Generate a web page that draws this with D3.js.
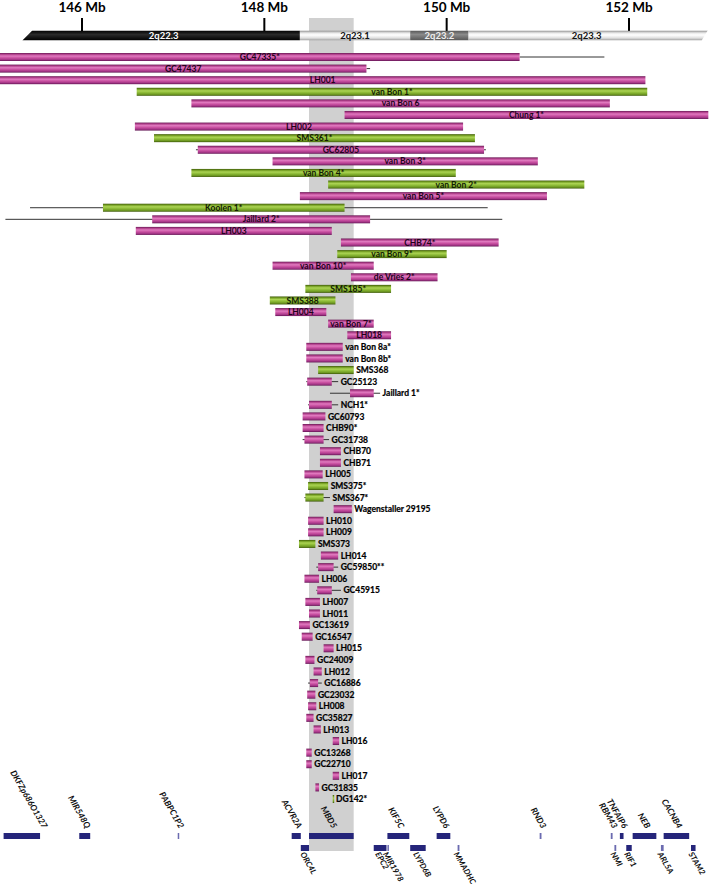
<!DOCTYPE html>
<html>
<head>
<meta charset="utf-8">
<script src="https://cdn.jsdelivr.net/npm/d3@7"></script>
<style>
  html, body { margin: 0; padding: 0; background: #fff; }
  svg { display: block; font-family: Lato, "Open Sans", sans-serif; }
</style>
</head>
<body>
<svg id="chart" width="713" height="887"></svg>
<script>
// Positions in Mb (chromosome 2)
var tickValues = [146, 148, 150, 152];

// ideogram bands
var bandNames = ["2q22.3", "2q23.1", "2q23.2", "2q23.3"];
var bandStart = [145.40, 148.39, 149.60, 150.24];
var bandEnd   = [148.39, 149.60, 150.24, 152.83];
var bandStain = ["gpos100", "gneg", "gpos50", "gneg"];

// shared minimal region (grey)
var smroStart = 148.49, smroEnd = 148.98;

// deletions / duplications, one row each
var rowNames = ["GC47335*","GC47437","LH001","van Bon 1*","van Bon 6","Chung 1*","LH002","SMS361*","GC62805",
  "van Bon 3*","van Bon 4*","van Bon 2*","van Bon 5*","Koolen 1*","Jaillard 2*","LH003","CHB74*","van Bon 9*",
  "van Bon 10*","de Vries 2*","SMS185*","SMS388","LH004","van Bon 7*","LH018","van Bon 8a*","van Bon 8b*",
  "SMS368","GC25123","Jaillard 1*","NCH1*","GC60793","CHB90*","GC31738","CHB70","CHB71","LH005","SMS375*",
  "SMS367*","Wagenstaller 29195","LH010","LH009","SMS373","LH014","GC59850**","LH006","GC45915","LH007",
  "LH011","GC13619","GC16547","LH015","GC24009","LH012","GC16886","GC23032","LH008","GC35827","LH013",
  "LH016","GC13268","GC22710","LH017","GC31835","DG142*"];
var rowStart = [145.10,145.10,145.10,146.60,147.20,148.88,146.58,146.79,147.27,
  148.09,147.20,148.70,148.39,146.23,146.77,146.59,148.84,148.80,
  148.09,148.95,148.45,148.06,148.12,148.70,148.91,148.46,148.46,
  148.59,148.47,148.94,148.49,148.42,148.42,148.44,148.61,148.61,148.44,148.48,
  148.45,148.76,148.48,148.48,148.38,148.62,148.59,148.44,148.58,148.45,
  148.49,148.38,148.41,148.65,148.45,148.54,148.50,148.47,148.48,148.46,148.54,
  148.75,148.46,148.46,148.75,148.56,148.75];
var rowEnd = [150.80,149.12,152.18,152.20,151.79,152.87,150.18,150.31,150.41,
  151.00,150.10,151.51,151.10,148.88,149.16,148.74,150.57,150.00,
  149.20,149.90,149.39,148.78,148.68,149.20,149.39,148.86,148.86,
  148.98,148.74,149.20,148.74,148.67,148.65,148.65,148.84,148.84,148.64,148.70,
  148.65,148.96,148.65,148.65,148.56,148.81,148.76,148.60,148.74,148.61,
  148.61,148.50,148.53,148.76,148.55,148.63,148.59,148.56,148.57,148.54,148.62,
  148.82,148.52,148.52,148.82,148.60,148.76];
// "del" = deletion (pink), "dup" = duplication / other (green)
var rowType = ["del","del","del","dup","del","del","del","dup","del",
  "del","dup","dup","del","dup","del","del","del","dup",
  "del","del","dup","dup","del","del","del","del","del",
  "dup","del","del","del","del","del","del","del","del","del","dup",
  "dup","del","del","del","dup","del","del","del","del","del",
  "del","del","del","del","del","del","del","del","del","del","del",
  "del","del","del","del","del","dup"];
var labelsInside = 25; // first rows carry their label inside the bar

// uncertain breakpoint ranges (thin lines)
var lineNames = ["GC47335*","GC47437","GC62805","Koolen 1*","Jaillard 2*","GC25123","Jaillard 1*","NCH1*",
  "GC31738","SMS367*","GC59850**","GC45915","GC16886"];
var lineStart = [150.80,149.12,147.25,145.43,145.16,148.46,148.72,148.48,148.42,148.44,148.57,148.57,148.48];
var lineEnd   = [151.73,149.16,150.43,150.45,150.61,148.81,149.27,148.81,148.71,148.72,148.81,148.84,148.63];

// genes (track 0 = upper, labels above; track 1 = lower, labels below)
var geneNames = ["DKFZp686O1327","MIR548Q","PABPC1P2","ACVR2A","MBD5","KIF5C","LYPD6","RND3","RBM43","TNFAIP6",
  "NEB","CACNB4","ORC4L","EPC2","MIR1978","LYPD6B","MMADHC","NMI","RIF1","ARL5A","STAM2"];
var geneStart = [145.14,145.97,147.05,148.30,148.49,149.35,149.89,151.02,151.80,151.90,
  152.04,152.38,148.40,149.20,149.35,149.60,150.12,151.84,151.97,152.35,152.68];
var geneEnd   = [145.54,146.09,147.06,148.40,148.98,149.59,150.04,151.04,151.82,151.94,
  152.30,152.66,148.49,149.34,149.36,149.77,150.14,151.86,152.03,152.38,152.73];
var geneTrack = [0,0,0,0,0,0,0,0,0,0,0,0,1,1,1,1,1,1,1,1,1];

var svg = d3.select("#chart");
var x = d3.scaleLinear().domain([146, 152]).range([82, 629]);
var y = d3.scalePoint().domain(rowNames).range([57, 799]);
var barH = 8;

// gradients for the cylinder look
var defs = svg.append("defs");
function grad(id, stops) {
  var g = defs.append("linearGradient").attr("id", id)
    .attr("x1", 0).attr("y1", 0).attr("x2", 0).attr("y2", 1);
  stops.forEach(s => g.append("stop").attr("offset", s[0]).attr("stop-color", s[1]));
}
grad("g-del", [[0, "#6a1a56"], [0.18, "#b4428e"], [0.38, "#e07abf"], [0.62, "#c84fa0"], [0.85, "#a03484"], [1, "#5e1250"]]);
grad("g-dup", [[0, "#3e5a08"], [0.18, "#78a226"], [0.38, "#acd454"], [0.62, "#8ab834"], [0.85, "#6a9420"], [1, "#3a5406"]]);
grad("g-black", [[0, "#000"], [0.4, "#2a2a2a"], [1, "#000"]]);
grad("g-white", [[0, "#8a8a8a"], [0.25, "#e8e8e8"], [0.45, "#ffffff"], [0.75, "#e0e0e0"], [1, "#9a9a9a"]]);
grad("g-grey", [[0, "#555"], [0.4, "#8a8a8a"], [1, "#555"]]);
var bandFill = {gpos100: "url(#g-black)", gneg: "url(#g-white)", gpos50: "url(#g-grey)"};
var bandText = {gpos100: "#fff", gneg: "#111", gpos50: "#eee"};

// grey highlight behind everything
svg.append("rect")
  .attr("x", x(smroStart)).attr("width", x(smroEnd) - x(smroStart))
  .attr("y", 18).attr("height", 833)
  .attr("fill", "#d0d0d0");

// axis ticks on top
var axis = svg.append("g");
axis.selectAll("line").data(tickValues).enter().append("line")
  .attr("x1", d => x(d)).attr("x2", d => x(d))
  .attr("y1", 18).attr("y2", 31)
  .attr("stroke", "#000").attr("stroke-width", 2);
axis.selectAll("text").data(tickValues).enter().append("text")
  .attr("x", d => x(d)).attr("y", 12)
  .attr("text-anchor", "middle")
  .style("font-size", "13.5px").style("font-weight", "bold")
  .text(d => d + " Mb");

// ideogram as a slanted bar
var iy0 = 30.5, iy1 = 40.5, slant = 5;
var ix0 = x(bandStart[0]), ix1 = x(bandEnd[bandEnd.length - 1]);
defs.append("clipPath").attr("id", "ideo-clip").append("path")
  .attr("d", "M" + (ix0 - slant) + "," + iy1 + "L" + (ix0 + slant) + "," + iy0 +
    "L" + (ix1 + 3) + "," + iy0 + "L" + (ix1 - 3) + "," + iy1 + "Z");
var ideo = svg.append("g").attr("clip-path", "url(#ideo-clip)");
ideo.selectAll("rect").data(bandNames).enter().append("rect")
  .attr("x", (d, i) => x(bandStart[i]) - (i === 0 ? 10 : 0))
  .attr("width", (d, i) => x(bandEnd[i]) - x(bandStart[i]) + (i === 0 || i === bandNames.length - 1 ? 10 : 0))
  .attr("y", iy0).attr("height", iy1 - iy0)
  .attr("fill", (d, i) => bandFill[bandStain[i]]);
svg.append("g").selectAll("text").data(bandNames).enter().append("text")
  .attr("x", (d, i) => (x(bandStart[i]) + x(bandEnd[i])) / 2)
  .attr("y", 39)
  .attr("text-anchor", "middle")
  .style("font-size", "9.5px").style("font-weight", "bold")
  .attr("fill", (d, i) => bandText[bandStain[i]])
  .text(d => d);

// thin lines for breakpoint uncertainty
svg.append("g").selectAll("line").data(lineNames).enter().append("line")
  .attr("x1", (d, i) => x(lineStart[i])).attr("x2", (d, i) => x(lineEnd[i]))
  .attr("y1", d => y(d)).attr("y2", d => y(d))
  .attr("stroke", "#333").attr("stroke-width", 1);

// bars
var rows = svg.append("g").selectAll("g").data(rowNames).enter().append("g");
rows.append("rect")
  .attr("x", (d, i) => x(rowStart[i]))
  .attr("width", (d, i) => Math.max(1.5, x(rowEnd[i]) - x(rowStart[i])))
  .attr("y", d => y(d) - barH / 2).attr("height", barH)
  .attr("fill", (d, i) => rowType[i] === "del" ? "url(#g-del)" : "url(#g-dup)");

// bar labels
var lineEndOf = {};
lineNames.forEach((n, i) => lineEndOf[n] = lineEnd[i]);
rows.append("text")
  .attr("x", (d, i) => {
    if (i < labelsInside) return (x(rowStart[i]) + Math.min(x(rowEnd[i]), 713)) / 2;
    var e = Math.max(rowEnd[i], lineEndOf[d] || 0);
    return x(e) + 2.5;
  })
  .attr("y", d => y(d) + 3.1)
  .attr("text-anchor", (d, i) => i < labelsInside ? "middle" : "start")
  .style("font-size", "8.5px").style("font-weight", "bold")
  .attr("fill", (d, i) => i < labelsInside ? (rowType[i] === "del" ? "#22031c" : "#121c03") : "#000")
  .attr("stroke", (d, i) => i < labelsInside ? "none" : "#000")
  .attr("stroke-width", 0.2)
  .text(d => d);

// genes
var geneY = [833, 845], geneH = 6;
var genes = svg.append("g").selectAll("g").data(geneNames).enter().append("g");
genes.append("rect")
  .attr("x", (d, i) => x(geneStart[i]))
  .attr("width", (d, i) => Math.max(1.5, x(geneEnd[i]) - x(geneStart[i])))
  .attr("y", (d, i) => geneY[geneTrack[i]]).attr("height", geneH)
  .attr("fill", (d, i) => x(geneEnd[i]) - x(geneStart[i]) < 3 ? "#6b6bb0" : "#25257a");
genes.append("text")
  .style("font-size", (d, i) => geneTrack[i] === 0 ? "8.5px" : "8px")
  .style("font-weight", "bold").style("font-style", "italic")
  .attr("fill", "#111")
  .attr("text-anchor", (d, i) => geneTrack[i] === 0 ? "end" : "start")
  .text(d => d)
  .attr("transform", function (d, i) {
    var cx = (x(geneStart[i]) + x(geneEnd[i])) / 2;
    if (geneTrack[i] === 0) {
      var w = this.getComputedTextLength();
      cx = Math.max(cx + 1, w * 0.5 + 10);
      return "translate(" + cx + ",829) rotate(60)";
    }
    return "translate(" + (cx - 5) + ",854) rotate(60)";
  });
</script>
</body>
</html>
